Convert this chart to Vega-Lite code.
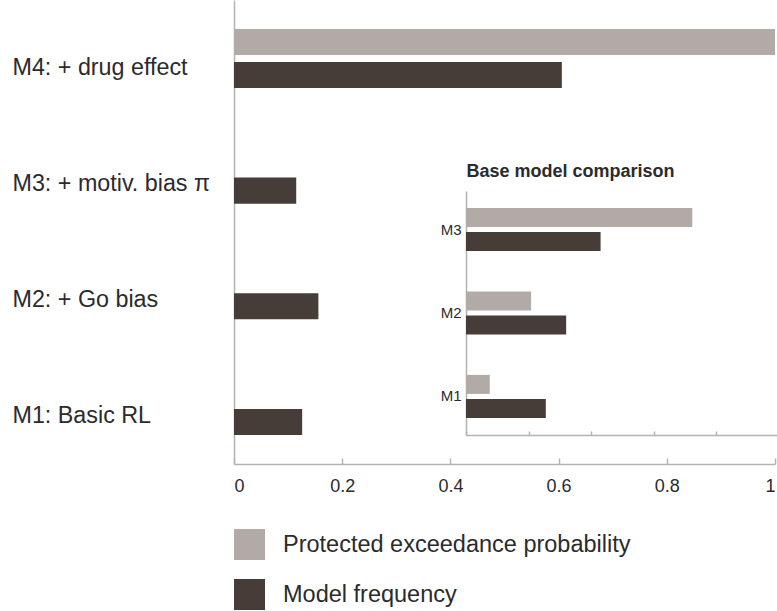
{
  "$schema": "https://vega.github.io/schema/vega-lite/v6.json",
  "width": 541,
  "height": 464,
  "autosize": {"type": "none"},
  "padding": {"left": 234, "top": 0, "right": 2, "bottom": 147},
  "background": "white",
  "config": {
    "view": {"stroke": null},
    "font": "Liberation Sans",
    "axis": {"domainColor": "#b3b3b3", "domainWidth": 1.5, "tickColor": "#b3b3b3", "tickWidth": 1.5, "grid": false, "labelColor": "#2b2b2b", "labelFont": "Liberation Sans"}
  },
  "layer": [
    {
      "data": {
        "values": [
          {"model": "M4: + drug effect", "measure": "Protected exceedance probability", "value": 1.0},
          {"model": "M4: + drug effect", "measure": "Model frequency", "value": 0.606},
          {"model": "M3: + motiv. bias π", "measure": "Protected exceedance probability", "value": 0.0},
          {"model": "M3: + motiv. bias π", "measure": "Model frequency", "value": 0.115},
          {"model": "M2: + Go bias", "measure": "Protected exceedance probability", "value": 0.0},
          {"model": "M2: + Go bias", "measure": "Model frequency", "value": 0.156},
          {"model": "M1: Basic RL", "measure": "Protected exceedance probability", "value": 0.0},
          {"model": "M1: Basic RL", "measure": "Model frequency", "value": 0.126}
        ]
      },
      "mark": {"type": "bar"},
      "encoding": {
        "y": {
          "field": "model", "type": "nominal",
          "sort": ["M4: + drug effect", "M3: + motiv. bias π", "M2: + Go bias", "M1: Basic RL"],
          "scale": {"paddingInner": 0.49, "paddingOuter": 0.25},
          "axis": {"orient": "left", "title": null, "ticks": false, "tickSize": 0, "labelAlign": "left", "labelBaseline": "middle", "labelPadding": 222, "labelFontSize": 23.3, "labelOffset": 10, "labelLimit": 0}
        },
        "yOffset": {
          "field": "measure", "type": "nominal",
          "sort": ["Protected exceedance probability", "Model frequency"],
          "scale": {"paddingInner": 0.21, "paddingOuter": 0}
        },
        "x": {
          "field": "value", "type": "quantitative",
          "scale": {"domain": [0, 1], "nice": false},
          "axis": {"orient": "bottom", "title": null, "values": [0, 0.2, 0.4, 0.6, 0.8, 1], "format": "~g", "tickSize": -6, "labelPadding": 19, "labelFontSize": 18, "labelFlush": true}
        },
        "color": {
          "field": "measure", "type": "nominal",
          "scale": {"domain": ["Protected exceedance probability", "Model frequency"], "range": ["#b2aaa6", "#463d38"]},
          "legend": {"orient": "none", "legendX": 0, "legendY": 529, "title": null, "symbolType": "square", "symbolSize": 961, "symbolStrokeWidth": 0, "symbolOpacity": 1, "labelFontSize": 23.5, "labelColor": "#2b2b2b", "labelOffset": 18, "rowPadding": 19, "padding": 0, "labelLimit": 0}
        }
      }
    },
    {
      "data": {
        "values": [
          {"model": "M3", "measure": "Protected exceedance probability", "value": 0.723},
          {"model": "M3", "measure": "Model frequency", "value": 0.43},
          {"model": "M2", "measure": "Protected exceedance probability", "value": 0.208},
          {"model": "M2", "measure": "Model frequency", "value": 0.32},
          {"model": "M1", "measure": "Protected exceedance probability", "value": 0.076},
          {"model": "M1", "measure": "Model frequency", "value": 0.255}
        ]
      },
      "mark": {"type": "bar"},
      "encoding": {
        "y": {
          "field": "model", "type": "nominal",
          "sort": ["M3", "M2", "M1"],
          "scale": {"range": [191, 435], "paddingInner": 0.484, "paddingOuter": 0.205},
          "axis": {"orient": "left", "offset": -232, "title": "Base model comparison", "titleAngle": 0, "titleAlign": "left", "titleBaseline": "alphabetic", "titleX": 0, "titleY": 176, "titleFontSize": 18, "titleFontWeight": "bold", "titleColor": "#2b2b2b", "titleFont": "Liberation Sans", "ticks": false, "tickSize": 0, "labelPadding": 5, "labelFontSize": 15}
        },
        "yOffset": {
          "field": "measure", "type": "nominal",
          "sort": ["Protected exceedance probability", "Model frequency"],
          "scale": {"paddingInner": 0.208, "paddingOuter": 0}
        },
        "x": {
          "field": "value", "type": "quantitative",
          "scale": {"domain": [0, 1], "nice": false, "range": [232, 545]},
          "axis": {"orient": "bottom", "offset": -29, "title": null, "labels": false, "values": [0, 0.2, 0.4, 0.6, 0.8, 1], "tickSize": -4}
        },
        "color": {
          "field": "measure", "type": "nominal",
          "legend": null
        }
      }
    }
  ],
  "resolve": {
    "scale": {"x": "independent", "y": "independent", "yOffset": "independent"},
    "axis": {"x": "independent", "y": "independent"}
  }
}
